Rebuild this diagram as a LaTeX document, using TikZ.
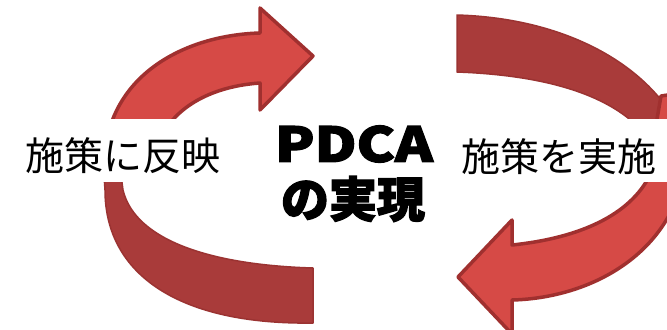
\documentclass[tikz,border=0pt]{standalone}
\usepackage{fontspec}
\usepackage{graphicx}
\newfontfamily\jp{Noto Sans CJK JP}
\newfontfamily\jpb[FakeBold=2.5]{Noto Sans CJK JP}
\definecolor{brightred}{HTML}{D64A46}
\definecolor{brightline}{HTML}{A0302F}
\definecolor{darkred}{HTML}{A93B3A}
\definecolor{darkline}{HTML}{9B3332}
\tikzset{
  frontarrow/.style={fill=brightred, draw=brightline, line width=3.5bp, line join=round},
  backpiece/.style={fill=darkred, draw=darkline, line width=1.5bp, line join=round},
  sidelabel/.style={font=\jp\fontsize{39bp}{39bp}\selectfont, inner sep=0pt, text=black},
  centerlabel/.style={font=\jpb\bfseries\fontsize{48bp}{48bp}\selectfont, inner sep=0pt, text=black}
}
\begin{document}
\begin{tikzpicture}[x=1bp, y=-1bp]
\clip (0,0) rectangle (667,329);
\fill[white] (0,0) rectangle (667,329);
% back pieces
\draw[backpiece] (313,268) .. controls (210,265) and (135,240) .. (123,190)
  -- (119,160) -- (103,160) -- (105,190)
  .. controls (105,275) and (180,325) .. (313,323) -- cycle;
\draw[backpiece] (457,15) .. controls (560,18) and (640,60) .. (675,120)
  -- (680,140) -- (640,140) -- (628,118)
  .. controls (595,92) and (540,75) .. (457,72) -- cycle;
% front arrows
\draw[frontarrow] (105,150) .. controls (115,70) and (190,35) .. (260,33)
  -- (260,8) -- (313,56) -- (260,110) -- (260,83)
  .. controls (215,86) and (175,105) .. (160,140) -- cycle;
\draw[frontarrow] (512,300) .. controls (590,298) and (670,255) .. (685,170)
  -- (700,90) -- (661,96) -- (656,125) -- (652,160) -- (650,175)
  .. controls (630,215) and (580,238) .. (512,245)
  -- (512,220) -- (458,277) -- (512,334) -- cycle;
% white band behind the side labels
\fill[white] (0,119) rectangle (667,182);
% labels
\node[sidelabel] (left) at (123,156) {施策に反映};
\node[sidelabel] (right) at (559,157) {施策を実施};
\node[centerlabel] (pdca) at (354,144) {\scalebox{1.2}[1]{PDCA}};
\node[centerlabel] (real) at (353,199) {の実現};
\end{tikzpicture}
\end{document}
